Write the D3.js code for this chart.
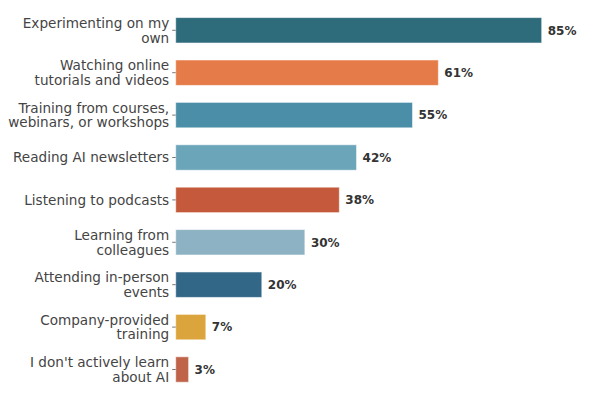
<!DOCTYPE html>
<html><head><meta charset="utf-8">
<script src="https://cdn.jsdelivr.net/npm/d3@7"></script>
<style>body{margin:0;background:#fff}svg{display:block}</style>
</head><body>
<svg id="c" width="600" height="400"></svg>
<script>
const categories = [
  "Experimenting on my\nown",
  "Watching online\ntutorials and videos",
  "Training from courses,\nwebinars, or workshops",
  "Reading AI newsletters",
  "Listening to podcasts",
  "Learning from\ncolleagues",
  "Attending in-person\nevents",
  "Company-provided\ntraining",
  "I don't actively learn\nabout AI"
];
const values = [85, 61, 55, 42, 38, 30, 20, 7, 3];
const colors = ["#2e6b7b","#e57b48","#4a8ea7","#6aa5b9","#c45a3b","#8cb2c3","#336788","#dca43d","#bf6349"];

const svg = d3.select("#c");
const left = 175.7;
const x = d3.scaleLinear().domain([0, 85]).range([left, 541.7]);
const y = d3.scaleBand().domain(d3.range(categories.length)).range([9.1, 390.7]).paddingInner(0.4).paddingOuter(0.2);

svg.append("g").selectAll("rect").data(values).join("rect")
  .attr("x", x(0))
  .attr("y", (d,i) => y(i))
  .attr("width", d => x(d) - x(0))
  .attr("height", y.bandwidth())
  .attr("fill", (d,i) => colors[i])
  .attr("stroke", "rgba(255,255,255,0.55)")
  .attr("stroke-width", 1);

// ticks
svg.append("g").selectAll("line").data(categories).join("line")
  .attr("x1", left - 3.5).attr("x2", left)
  .attr("y1", (d,i) => y(i) + y.bandwidth()/2)
  .attr("y2", (d,i) => y(i) + y.bandwidth()/2)
  .attr("stroke", "#555").attr("stroke-width", 0.8);

// category labels
const lh = 14.8;
svg.append("g").selectAll("text").data(categories).join("text")
  .attr("text-anchor", "end")
  .attr("font-family", "DejaVu Sans")
  .attr("font-size", 13.6)
  .attr("fill", "#444")
  .each(function(d,i){
    const lines = d.split("\n");
    const cy = y(i) + y.bandwidth()/2;
    const t = d3.select(this);
    lines.forEach((ln, k) => {
      t.append("tspan")
        .attr("x", left - 6.5)
        .attr("y", cy + (k - (lines.length-1)/2) * lh)
        .attr("dy", "0.36em")
        .text(ln);
    });
  });

// value labels
svg.append("g").selectAll("text").data(values).join("text")
  .attr("x", d => x(d) + 6)
  .attr("y", (d,i) => y(i) + y.bandwidth()/2)
  .attr("dy", "0.36em")
  .attr("font-family", "DejaVu Sans")
  .attr("font-weight", "bold")
  .attr("font-size", 12)
  .attr("fill", "#333")
  .text(d => d + "%");
</script>
</body></html>
